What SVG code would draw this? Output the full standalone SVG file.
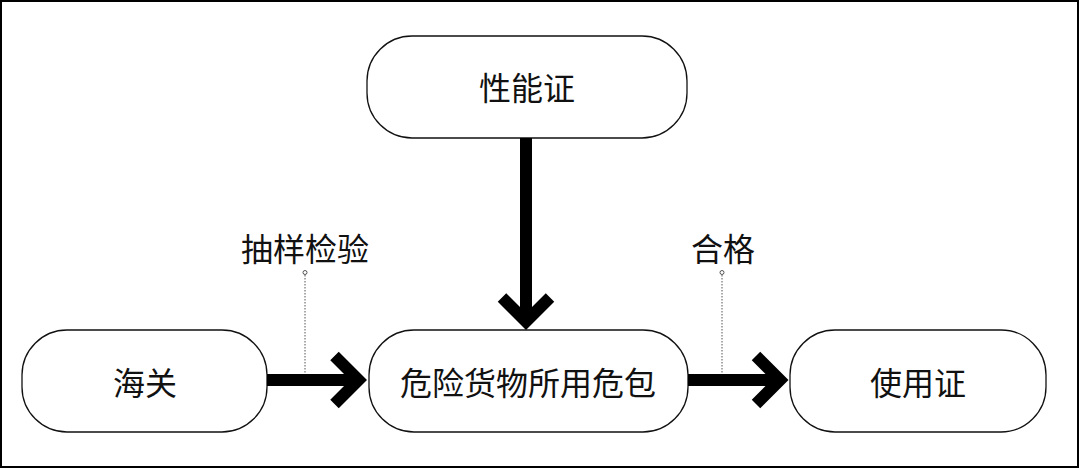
<svg xmlns="http://www.w3.org/2000/svg" width="1080" height="469" viewBox="0 0 1080 469">
<style>
.node{fill:#fff;stroke:#111;stroke-width:1.3}
.t{font-family:"Noto Sans CJK SC","Liberation Sans",sans-serif;font-size:32px;fill:#111;text-anchor:middle;dominant-baseline:central}
.bar{stroke:#000;stroke-width:12;fill:none;stroke-linecap:butt}
.head{stroke:#000;stroke-width:12;fill:none;stroke-linejoin:miter;stroke-miterlimit:4;stroke-linecap:butt}
.dot{stroke:#555;stroke-width:1;stroke-dasharray:1.5 1.5;fill:none}
.pin{fill:#fff;stroke:#555;stroke-width:1}
</style>
<rect x="0" y="0" width="1080" height="469" fill="#fff"/>
<rect x="1" y="1" width="1077" height="466" fill="none" stroke="#000" stroke-width="2"/>
<g id="node-xingnengzheng">
<rect class="node" x="367" y="36" width="320" height="102" rx="45" ry="45"/>
<text class="t" x="527" y="86">性能证</text>
</g>
<g id="node-haiguan">
<rect class="node" x="22" y="330" width="245" height="102" rx="45" ry="45"/>
<text class="t" x="145" y="381">海关</text>
</g>
<g id="node-weibao">
<rect class="node" x="369" y="330" width="319" height="102" rx="45" ry="45"/>
<text class="t" x="528" y="381">危险货物所用危包</text>
</g>
<g id="node-shiyongzheng">
<rect class="node" x="790" y="330" width="256" height="102" rx="45" ry="45"/>
<text class="t" x="918" y="381">使用证</text>
</g>
<g id="connectors">
<line class="bar" x1="526" y1="138" x2="526" y2="320"/>
<polyline class="head" points="502,297.5 526,321.5 550,297.5"/>
<line class="bar" x1="267" y1="380" x2="357" y2="380"/>
<polyline class="head" points="334.5,356 358.5,380 334.5,404"/>
<line class="bar" x1="688" y1="380" x2="779" y2="380"/>
<polyline class="head" points="756,356 780,380 756,404"/>
</g>
<g id="label-chouyang">
<line class="dot" x1="305" y1="275" x2="305" y2="374"/>
<circle class="pin" cx="305" cy="272.5" r="2"/>
<text class="t" x="305" y="247">抽样检验</text>
</g>
<g id="label-hege">
<line class="dot" x1="722" y1="275" x2="722" y2="374"/>
<circle class="pin" cx="722" cy="272.5" r="2"/>
<text class="t" x="723" y="247">合格</text>
</g>
</svg>
